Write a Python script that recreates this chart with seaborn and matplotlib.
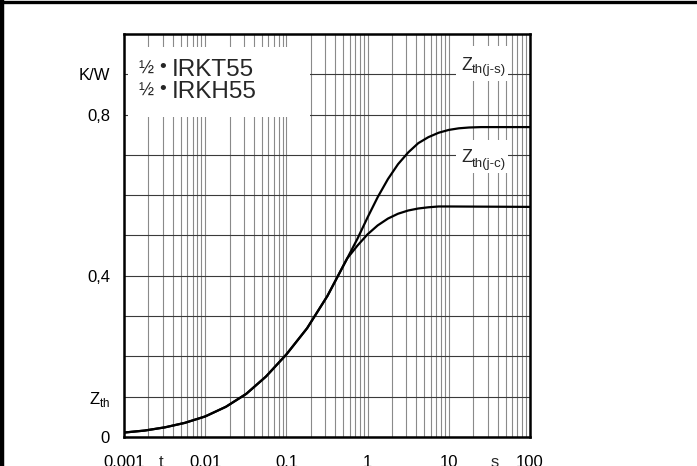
import numpy as np
import pandas as pd
import seaborn as sns
import matplotlib.pyplot as plt
import matplotlib.transforms as mtransforms
from matplotlib.lines import Line2D
from matplotlib.patches import Rectangle
from matplotlib.ticker import LogLocator, FixedLocator, NullFormatter

# data (t in s, Zth in K/W)
t_common = [0.001, 0.0018, 0.0032, 0.0056, 0.01, 0.018, 0.032, 0.056, 0.1, 0.18, 0.32, 0.56]
z_common = [0.011, 0.016, 0.024, 0.035, 0.051, 0.075, 0.107, 0.150, 0.205, 0.270, 0.350, 0.443]

t_js_tail = [0.75, 1.0, 1.33, 1.78, 2.37, 3.16, 4.2, 5.6, 7.5, 10, 13.3, 17.8, 25, 100]
z_js_tail = [0.492, 0.545, 0.595, 0.640, 0.677, 0.706, 0.729, 0.744, 0.755, 0.762, 0.766, 0.768, 0.769, 0.769]

t_jc_tail = [0.75, 1.0, 1.33, 1.78, 2.37, 3.16, 4.2, 5.6, 7.5, 10, 100]
z_jc_tail = [0.475, 0.503, 0.525, 0.542, 0.554, 0.562, 0.567, 0.570, 0.572, 0.572, 0.571]

x_ticks = [0.001, 0.01, 0.1, 1, 10, 100]
x_labels = ["0,001", "0,01", "0,1", "1", "10", "100"]
y_ticks = [0, 0.1, 0.2, 0.3, 0.4, 0.5, 0.6, 0.7, 0.8, 0.9, 1.0]
y_labels = ["0", "Z$_{\\mathrm{th}}$", "", "", "0,4", "", "", "", "0,8", "K/W", ""]

df = pd.concat([
    pd.DataFrame({"t": t_common + t_js_tail, "z": z_common + z_js_tail, "curve": "j-s"}),
    pd.DataFrame({"t": t_common + t_jc_tail, "z": z_common + z_jc_tail, "curve": "j-c"}),
])

sns.set_style("white")
plt.rcParams['font.family'] = ['Liberation Sans', 'DejaVu Sans']
plt.rcParams['mathtext.fontset'] = 'custom'
plt.rcParams['mathtext.rm'] = 'Liberation Sans'

W, H = 697, 466
fig = plt.figure(figsize=(W / 100, H / 100), dpi=100)
ax = fig.add_axes([124 / W, 1 - 437 / H, 406 / W, 403 / H])
ax.set_xscale('log')

sns.lineplot(data=df, x="t", y="z", hue="curve", palette={"j-s": "black", "j-c": "black"},
             linewidth=1.6, legend=False, sort=True, ax=ax, zorder=2)

ax.set_xlim(0.001, 100)
ax.set_ylim(0, 1.0)
ax.set_xlabel("")
ax.set_ylabel("")

ax.xaxis.set_major_locator(FixedLocator(x_ticks))
ax.set_xticklabels(x_labels)
ax.xaxis.set_minor_locator(LogLocator(base=10, subs=np.arange(2, 10)))
ax.xaxis.set_minor_formatter(NullFormatter())
ax.set_yticks(y_ticks)
ax.set_yticklabels(y_labels)
ax.tick_params(axis='x', which='both', length=0, pad=13, labelsize=12, colors='black')
ax.tick_params(axis='y', length=0, pad=10, labelsize=12, colors='black')

ax.set_axisbelow(True)
ax.grid(axis='x', which='both', color='#8a8a8a', linewidth=0.8)
ax.grid(axis='y', which='major', color='#3a3a3a', linewidth=0.8)
for s in ax.spines.values():
    s.set_visible(True)
    s.set_color('black')
    s.set_linewidth(1.8)

# axis variable labels t and s among the x tick labels
trans = mtransforms.blended_transform_factory(ax.transData, ax.transAxes)
ax.text(0.0029, -0.045, "t", transform=trans, ha='center', va='top', fontsize=12)
ax.text(37, -0.045, "s", transform=trans, ha='center', va='top', fontsize=12)


def px(x, y):
    return x / W, 1 - y / H


# title box
bx, by = px(128, 117)
ax.add_patch(Rectangle((bx, by), 182 / W, 70 / H, transform=fig.transFigure,
                       facecolor='white', edgecolor='none', zorder=1, clip_on=False))
for name, base in [("IRKT55", 76), ("IRKH55", 98)]:
    fig.text(*px(138, base - 2), "½", fontsize=13, ha='left', va='baseline', zorder=3)
    fig.text(*px(159, base - 4), "•", fontsize=14, ha='left', va='baseline', zorder=3)
    fig.text(*px(172, base), name, fontsize=17.5, ha='left', va='baseline', zorder=3)

# curve labels
for label, y0, y1 in [("th(j-s)", 46, 81), ("th(j-c)", 140, 173)]:
    x0, yb = px(456, y1)
    ax.add_patch(Rectangle((x0, yb), 52 / W, (y1 - y0) / H, transform=fig.transFigure,
                           facecolor='white', edgecolor='none', zorder=1, clip_on=False))
    base = (y0 + y1) / 2 + 6
    fig.text(*px(461, base), "Z", fontsize=13, ha='left', va='baseline', zorder=3)
    fig.text(*px(472, base + 4), label, fontsize=9.5, ha='left', va='baseline', zorder=3)

# figure border (left and top only visible)
fig.add_artist(Line2D([2 / W, 2 / W], [0, 1], transform=fig.transFigure, color='black', linewidth=3.2))
fig.add_artist(Line2D([0, 1], [1 - 1.5 / H, 1 - 1.5 / H], transform=fig.transFigure, color='black', linewidth=2.4))

fig.savefig("out.png", dpi=100)
